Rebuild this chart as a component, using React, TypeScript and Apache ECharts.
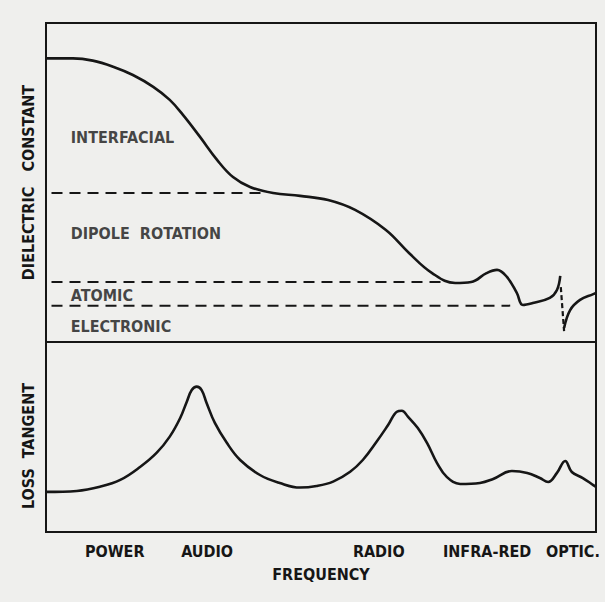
import React, { useEffect, useRef } from "react";
import * as echarts from "echarts";

// Frequency position (0..100, arbitrary log-like scale) and dielectric constant (arbitrary units)
const dielectricX = [0, 4.9, 8.5, 12.2, 15.8, 19.5, 22.5, 24.9, 28.0, 31.1, 34.0, 37.1, 41.3, 46.2, 51.3, 56.2, 61.8, 66.0, 70.2, 74.4, 77.3, 80.1, 82.0, 83.8, 85.6, 86.7, 88.5, 91.6, 92.9, 93.5];
const dielectricY = [88.9, 88.9, 88.2, 86.3, 83.7, 80.0, 75.9, 71.2, 64.3, 57.1, 51.7, 48.6, 46.7, 45.8, 44.5, 41.4, 35.1, 27.9, 21.6, 18.5, 18.8, 21.6, 22.6, 20.4, 15.4, 11.6, 12.2, 13.8, 16.3, 20.7];
// optical resonance: dashed drop and recovery
const opticDropX = [93.6, 94.2];
const opticDropY = [17.2, 3.4];
const opticTailX = [94.2, 95.3, 97.1, 99.5, 100];
const opticTailY = [4.4, 10.0, 13.2, 15.0, 15.4];

// Mechanism boundary levels (dashed)
const boundaryLevels = [46.7, 18.8, 11.4];
const boundaryEnds = [39.3, 72.4, 84.4];
const boundaryStart = 1.0;

const mechanismNames = ["INTERFACIAL", "DIPOLE  ROTATION", "ATOMIC", "ELECTRONIC"];
const mechanismLevels = [64, 34, 14.7, 5];

// Loss tangent
const lossX = [0, 5.6, 9.8, 13.5, 17.1, 20.1, 22.5, 24.4, 25.6, 26.5, 27.4, 28.3, 29.2, 30.7, 32.9, 35.3, 38.9, 42.5, 46.2, 49.2, 52.2, 55.3, 57.6, 60.1, 62.2, 63.8, 64.7, 65.8, 67.6, 69.3, 71.1, 72.9, 75.3, 78.9, 81.3, 84.7, 87.5, 89.8, 91.3, 92.9, 94.4, 95.6, 97.6, 99.5, 100];
const lossY = [21.1, 21.6, 23.8, 27.4, 34.2, 41.6, 50.2, 60.0, 68.6, 74.7, 76.5, 74.7, 67.9, 57.4, 46.8, 37.9, 30.0, 25.8, 23.4, 24.2, 26.5, 31.7, 37.9, 47.5, 56.3, 63.3, 63.8, 60.7, 54.7, 46.8, 36.3, 28.9, 25.3, 25.8, 27.9, 32.1, 31.1, 28.4, 26.3, 31.1, 37.4, 31.6, 28.4, 24.7, 23.7];

const bandNames = ["POWER", "AUDIO", "RADIO", "INFRA-RED", "OPTIC."];
const bandPositions = [12.5, 29.3, 60.5, 80.2, 95.8];

const INK = "#161616";
const FONT = "'DejaVu Sans Condensed', sans-serif";

const zip = (xs: number[], ys: number[]) => xs.map((x, i) => [x, ys[i]]);

export default function App() {
  const ref = useRef<HTMLDivElement>(null);
  useEffect(() => {
    document.body.style.margin = "0";
    const chart = echarts.init(ref.current!, null, { renderer: "svg" });
    const textStyle = { color: INK, fontFamily: FONT, fontWeight: "bold" as const, fontSize: 16 };
    const curve = { color: INK, width: 2.6 };
    chart.setOption({
      animation: false,
      backgroundColor: "#efefed",
      grid: [
        { left: 46, right: 9, top: 23, height: 319, show: true, borderColor: INK, borderWidth: 2, backgroundColor: "transparent" },
        { left: 46, right: 9, top: 342, height: 190, show: true, borderColor: INK, borderWidth: 2, backgroundColor: "transparent" },
      ],
      xAxis: [
        { type: "value", gridIndex: 0, min: 0, max: 100, show: false },
        {
          type: "value", gridIndex: 1, min: 0, max: 100,
          axisLine: { show: false }, axisTick: { show: false }, splitLine: { show: false },
          axisLabel: {
            customValues: bandPositions,
            formatter: (v: number) => bandNames[bandPositions.indexOf(v)] ?? "",
            margin: 11,
            ...textStyle,
          },
          name: "FREQUENCY", nameLocation: "middle", nameGap: 34,
          nameTextStyle: textStyle,
        },
      ],
      yAxis: [
        {
          type: "value", gridIndex: 0, min: 0, max: 100,
          axisLine: { show: false }, axisTick: { show: false }, axisLabel: { show: false }, splitLine: { show: false },
          name: "DIELECTRIC   CONSTANT", nameLocation: "middle", nameGap: 10, nameTextStyle: textStyle,
        },
        {
          type: "value", gridIndex: 1, min: 0, max: 100,
          axisLine: { show: false }, axisTick: { show: false }, axisLabel: { show: false }, splitLine: { show: false },
          name: "LOSS  TANGENT", nameLocation: "middle", nameGap: 10,
          nameTextStyle: { ...textStyle, padding: [0, 18, 0, 0] },
        },
      ],
      series: [
        {
          type: "line", xAxisIndex: 0, yAxisIndex: 0, data: zip(dielectricX, dielectricY),
          smooth: 0.4, showSymbol: false, lineStyle: curve,
        },
        {
          type: "line", xAxisIndex: 0, yAxisIndex: 0, data: zip(opticDropX, opticDropY),
          showSymbol: false, lineStyle: { color: INK, width: 2.2, type: [5, 3] },
        },
        {
          type: "line", xAxisIndex: 0, yAxisIndex: 0, data: zip(opticTailX, opticTailY),
          smooth: 0.4, showSymbol: false, lineStyle: curve,
        },
        ...boundaryLevels.map((lv, i) => ({
          type: "line", xAxisIndex: 0, yAxisIndex: 0,
          data: [[boundaryStart, lv], [boundaryEnds[i], lv]],
          showSymbol: false, lineStyle: { color: INK, width: 2, type: [11, 7] },
        })),
        {
          type: "scatter", xAxisIndex: 0, yAxisIndex: 0, symbolSize: 0,
          data: mechanismLevels.map((lv) => [4.5, lv]),
          label: {
            show: true, position: "right", distance: 0,
            formatter: (p: any) => mechanismNames[p.dataIndex],
            ...textStyle,
          },
        },
        {
          type: "line", xAxisIndex: 1, yAxisIndex: 1, data: zip(lossX, lossY),
          smooth: 0.4, showSymbol: false, lineStyle: curve,
        },
      ],
    });
    return () => chart.dispose();
  }, []);
  return <div ref={ref} style={{ width: 605, height: 602 }} />;
}
